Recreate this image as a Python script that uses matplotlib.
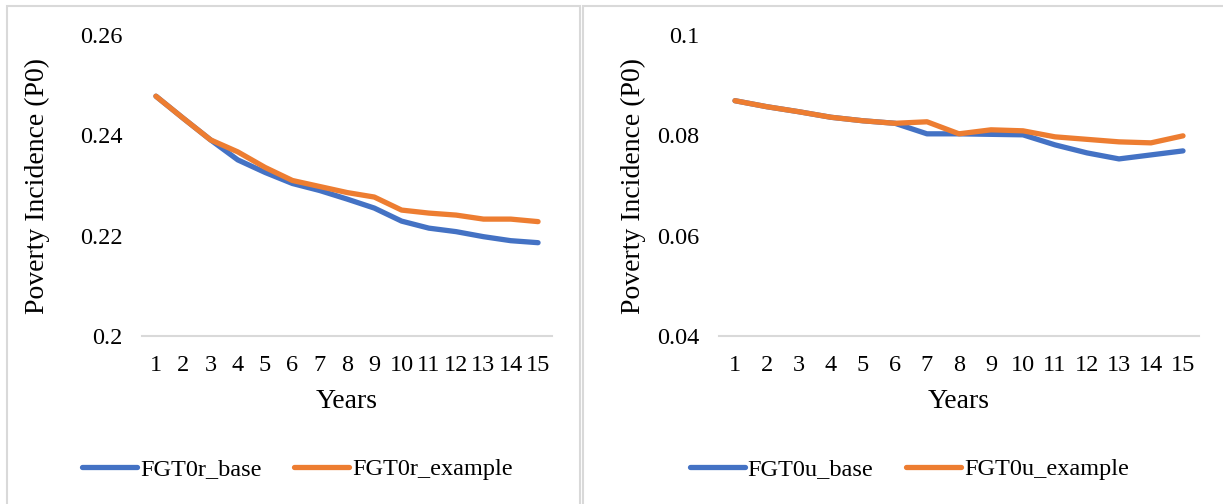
import matplotlib
matplotlib.use("Agg")
import matplotlib.pyplot as plt
from matplotlib.patches import Rectangle

# Data
years = list(range(1, 16))
fgt0r_base = [0.2478, 0.2434, 0.2391, 0.2351, 0.2326, 0.2304, 0.2290, 0.2273,
              0.2255, 0.2229, 0.2215, 0.2208, 0.2198, 0.2190, 0.2186]
fgt0r_example = [0.2478, 0.2434, 0.2391, 0.2367, 0.2336, 0.2310, 0.2298, 0.2286,
                 0.2277, 0.2251, 0.2245, 0.2241, 0.2233, 0.2233, 0.2228]
fgt0u_base = [0.0869, 0.0857, 0.0847, 0.0836, 0.0829, 0.0824, 0.0803, 0.0803,
              0.0802, 0.0801, 0.0781, 0.0765, 0.0753, 0.0761, 0.0769]
fgt0u_example = [0.0869, 0.0857, 0.0847, 0.0836, 0.0829, 0.0824, 0.0827, 0.0803,
                 0.0811, 0.0809, 0.0797, 0.0792, 0.0787, 0.0785, 0.0799]

left_yticks = [0.2, 0.22, 0.24, 0.26]
left_yticklabels = ["0.2", "0.22", "0.24", "0.26"]
right_yticks = [0.04, 0.06, 0.08, 0.1]
right_yticklabels = ["0.04", "0.06", "0.08", "0.1"]

BLUE = "#4472C4"
ORANGE = "#ED7D31"
GRID = "#D9D9D9"
FS_TICK = 17.5
FS_TITLE = 20

plt.rcParams["font.family"] = ["Liberation Serif", "DejaVu Serif"]

W, H = 1223, 504
fig = plt.figure(figsize=(W / 100, H / 100), dpi=100)
fig.patch.set_facecolor("white")


def px_axes(x0, x1, ytop, ybot):
    return fig.add_axes([x0 / W, 1 - ybot / H, (x1 - x0) / W, (ybot - ytop) / H])


# Panel frames
fig.add_artist(Rectangle((7 / W, -0.05), (580 - 7) / W, 1.05 - 6 / H,
                         transform=fig.transFigure, fill=False,
                         edgecolor=GRID, linewidth=1.5))
fig.add_artist(Rectangle((583 / W, -0.05), 0.6, 1.05 - 6 / H,
                         transform=fig.transFigure, fill=False,
                         edgecolor=GRID, linewidth=1.5))


def style_axes(ax, yticks, yticklabels, ylim, x0, x1, ylabel_x):
    ax.set_xlim(0.5, 15.5)
    ax.set_ylim(*ylim)
    ax.set_xticks(years)
    ax.set_xticklabels([str(y) for y in years], fontsize=FS_TICK)
    ax.set_yticks(yticks)
    ax.set_yticklabels(yticklabels, fontsize=FS_TICK)
    for s in ["top", "right", "left"]:
        ax.spines[s].set_visible(False)
    ax.spines["bottom"].set_color(GRID)
    ax.spines["bottom"].set_linewidth(1.5)
    ax.tick_params(axis="both", length=0)
    ax.tick_params(axis="y", pad=14)
    ax.tick_params(axis="x", pad=14)
    ax.set_xlabel("Years", fontsize=FS_TITLE, va="center")
    ax.xaxis.set_label_coords(0.5, (336 - 402) / 301)
    ax.set_ylabel("Poverty Incidence (P0)", fontsize=FS_TITLE, va="center")
    ax.yaxis.set_label_coords((ylabel_x - x0) / (x1 - x0), 0.5)
    ax.patch.set_alpha(0)


ax1 = px_axes(142.3, 551.7, 35, 336)
l1, = ax1.plot(years, fgt0r_base, color=BLUE, lw=3.8, solid_capstyle="round",
               solid_joinstyle="round", label="FGT0r_base")
l2, = ax1.plot(years, fgt0r_example, color=ORANGE, lw=3.8, solid_capstyle="round",
               solid_joinstyle="round", label="FGT0r_example")
style_axes(ax1, left_yticks, left_yticklabels, (0.2, 0.26), 142.3, 551.7, 37)

ax2 = px_axes(719, 1199, 35, 336)
r1, = ax2.plot(years, fgt0u_base, color=BLUE, lw=3.8, solid_capstyle="round",
               solid_joinstyle="round", label="FGT0u_base")
r2, = ax2.plot(years, fgt0u_example, color=ORANGE, lw=3.8, solid_capstyle="round",
               solid_joinstyle="round", label="FGT0u_example")
style_axes(ax2, right_yticks, right_yticklabels, (0.04, 0.1), 719, 1199, 633)

leg_kw = dict(ncol=2, frameon=False, fontsize=FS_TICK, handlelength=2.25,
              handletextpad=0.12, columnspacing=1.35, loc="center",
              bbox_transform=fig.transFigure)
fig.legend(handles=[l1, l2], bbox_to_anchor=(297.5 / W, 1 - 469 / H), **leg_kw)
fig.legend(handles=[r1, r2], bbox_to_anchor=(909.5 / W, 1 - 469 / H), **leg_kw)

fig.savefig("out.png", dpi=100, facecolor="white")
